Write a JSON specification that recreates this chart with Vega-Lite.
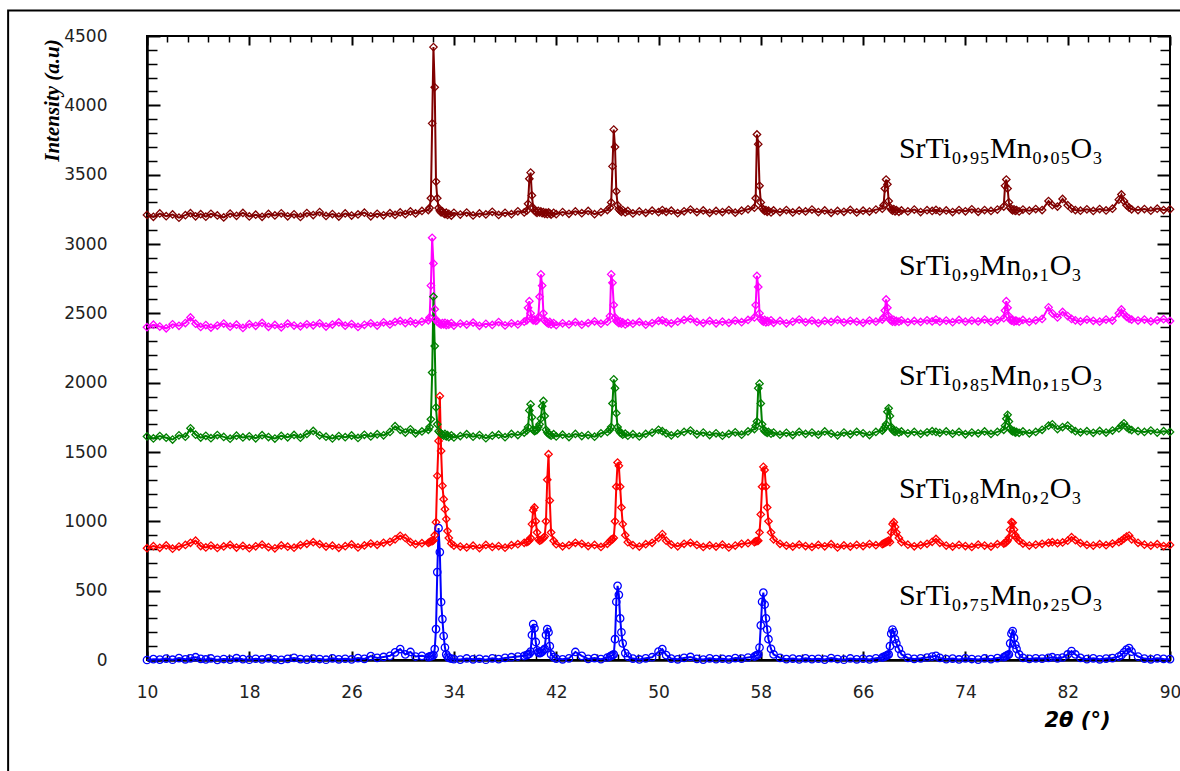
{
  "$schema": "https://vega.github.io/schema/vega-lite/v6.json",
  "width": 1023,
  "height": 624,
  "autosize": {"type": "none"},
  "padding": {"left": 147, "top": 36, "right": 10, "bottom": 111},
  "background": "white",
  "config": {
    "view": {"stroke": "black", "strokeWidth": 2},
    "axis": {"labelFont": "DejaVu Sans", "labelFontSize": 17, "labelColor": "#222", "tickColor": "black", "domainColor": "black", "grid": false, "labelFlush": false, "labelOverlap": false}
  },
  "datasets": {
    "xrd": [
      {"x":10.0,"a":3210,"b":2400,"c":1612,"d":806,"e":0},
      {"x":10.5,"a":3196,"b":2418,"c":1598,"d":821,"e":6},
      {"x":11.0,"a":3220,"b":2405,"c":1615,"d":809,"e":3},
      {"x":11.5,"a":3201,"b":2392,"c":1603,"d":826,"e":10},
      {"x":12.0,"a":3213,"b":2421,"c":1590,"d":803,"e":2},
      {"x":12.5,"a":3190,"b":2410,"c":1620,"d":818,"e":14},
      {"x":13.0,"a":3208,"b":2430,"c":1610,"d":830,"e":5},
      {"x":13.4,"a":3222,"b":2470,"c":1671,"d":845,"e":12},
      {"x":13.8,"a":3200,"b":2425,"c":1625,"d":860,"e":20},
      {"x":14.2,"a":3215,"b":2402,"c":1604,"d":822,"e":8},
      {"x":14.6,"a":3197,"b":2415,"c":1617,"d":812,"e":4},
      {"x":15.0,"a":3218,"b":2397,"c":1600,"d":825,"e":11},
      {"x":15.5,"a":3206,"b":2412,"c":1622,"d":808,"e":1},
      {"x":16.0,"a":3192,"b":2426,"c":1609,"d":819,"e":7},
      {"x":16.5,"a":3219,"b":2404,"c":1596,"d":830,"e":3},
      {"x":17.0,"a":3203,"b":2418,"c":1618,"d":811,"e":13},
      {"x":17.5,"a":3224,"b":2395,"c":1605,"d":823,"e":6},
      {"x":18.0,"a":3199,"b":2422,"c":1613,"d":806,"e":2},
      {"x":18.5,"a":3211,"b":2410,"c":1599,"d":820,"e":9},
      {"x":19.0,"a":3196,"b":2431,"c":1621,"d":832,"e":4},
      {"x":19.5,"a":3217,"b":2403,"c":1608,"d":814,"e":12},
      {"x":20.0,"a":3206,"b":2416,"c":1597,"d":805,"e":5},
      {"x":20.5,"a":3221,"b":2399,"c":1616,"d":826,"e":1},
      {"x":21.0,"a":3200,"b":2425,"c":1606,"d":817,"e":8},
      {"x":21.5,"a":3214,"b":2412,"c":1623,"d":810,"e":15},
      {"x":22.0,"a":3195,"b":2406,"c":1603,"d":829,"e":6},
      {"x":22.5,"a":3223,"b":2421,"c":1630,"d":838,"e":3},
      {"x":23.0,"a":3209,"b":2414,"c":1652,"d":850,"e":10},
      {"x":23.5,"a":3230,"b":2428,"c":1620,"d":835,"e":7},
      {"x":24.0,"a":3202,"b":2405,"c":1610,"d":818,"e":2},
      {"x":24.5,"a":3216,"b":2419,"c":1598,"d":824,"e":12},
      {"x":25.0,"a":3198,"b":2434,"c":1615,"d":809,"e":5},
      {"x":25.5,"a":3220,"b":2411,"c":1607,"d":821,"e":9},
      {"x":26.0,"a":3205,"b":2423,"c":1619,"d":833,"e":4},
      {"x":26.5,"a":3213,"b":2402,"c":1601,"d":812,"e":14},
      {"x":27.0,"a":3226,"b":2417,"c":1624,"d":826,"e":8},
      {"x":27.5,"a":3200,"b":2428,"c":1612,"d":840,"e":28},
      {"x":28.0,"a":3218,"b":2412,"c":1628,"d":831,"e":15},
      {"x":28.5,"a":3207,"b":2435,"c":1620,"d":845,"e":22},
      {"x":29.0,"a":3222,"b":2420,"c":1645,"d":852,"e":30},
      {"x":29.4,"a":3210,"b":2438,"c":1686,"d":870,"e":55},
      {"x":29.8,"a":3228,"b":2445,"c":1660,"d":896,"e":79},
      {"x":30.2,"a":3215,"b":2430,"c":1640,"d":880,"e":40},
      {"x":30.6,"a":3235,"b":2442,"c":1664,"d":850,"e":58},
      {"x":31.0,"a":3220,"b":2428,"c":1635,"d":835,"e":25},
      {"x":31.5,"a":3238,"b":2440,"c":1648,"d":842,"e":30},
      {"x":32.0,"a":3245,"b":2450,"c":1660,"d":845,"e":20},
      {"x":32.1,"a":3260,"b":2470,"c":1680,"d":850,"e":25},
      {"x":32.2,"a":3330,"b":2700,"c":1736,"d":855,"e":28},
      {"x":32.3,"a":3870,"b":3045,"c":2073,"d":858,"e":30},
      {"x":32.4,"a":4420,"b":2860,"c":2620,"d":862,"e":35},
      {"x":32.5,"a":4130,"b":2530,"c":2264,"d":900,"e":79},
      {"x":32.6,"a":3450,"b":2455,"c":1822,"d":994,"e":223},
      {"x":32.7,"a":3330,"b":2440,"c":1700,"d":1328,"e":634},
      {"x":32.8,"a":3260,"b":2432,"c":1650,"d":1580,"e":951},
      {"x":32.9,"a":3240,"b":2425,"c":1640,"d":1903,"e":778},
      {"x":33.0,"a":3228,"b":2418,"c":1632,"d":1508,"e":418},
      {"x":33.1,"a":3235,"b":2430,"c":1625,"d":1256,"e":295},
      {"x":33.2,"a":3222,"b":2420,"c":1618,"d":1160,"e":173},
      {"x":33.3,"a":3215,"b":2432,"c":1630,"d":1088,"e":90},
      {"x":33.4,"a":3226,"b":2415,"c":1612,"d":1016,"e":40},
      {"x":33.5,"a":3210,"b":2425,"c":1622,"d":930,"e":25},
      {"x":33.6,"a":3218,"b":2418,"c":1608,"d":880,"e":15},
      {"x":33.8,"a":3205,"b":2430,"c":1620,"d":840,"e":10},
      {"x":34.0,"a":3225,"b":2412,"c":1605,"d":825,"e":6},
      {"x":34.5,"a":3212,"b":2426,"c":1615,"d":818,"e":3},
      {"x":35.0,"a":3227,"b":2419,"c":1628,"d":812,"e":11},
      {"x":35.5,"a":3206,"b":2433,"c":1610,"d":824,"e":5},
      {"x":36.0,"a":3220,"b":2410,"c":1622,"d":807,"e":9},
      {"x":36.5,"a":3213,"b":2424,"c":1600,"d":830,"e":2},
      {"x":37.0,"a":3232,"b":2416,"c":1618,"d":815,"e":12},
      {"x":37.5,"a":3210,"b":2437,"c":1625,"d":822,"e":6},
      {"x":38.0,"a":3225,"b":2413,"c":1607,"d":810,"e":15},
      {"x":38.5,"a":3215,"b":2428,"c":1630,"d":828,"e":20},
      {"x":39.0,"a":3236,"b":2420,"c":1622,"d":835,"e":25},
      {"x":39.5,"a":3228,"b":2440,"c":1640,"d":845,"e":30},
      {"x":39.7,"a":3240,"b":2450,"c":1655,"d":850,"e":35},
      {"x":39.8,"a":3290,"b":2540,"c":1680,"d":855,"e":40},
      {"x":39.9,"a":3470,"b":2588,"c":1800,"d":862,"e":45},
      {"x":40.0,"a":3515,"b":2500,"c":1844,"d":880,"e":60},
      {"x":40.1,"a":3350,"b":2460,"c":1750,"d":980,"e":180},
      {"x":40.2,"a":3260,"b":2450,"c":1660,"d":1080,"e":259},
      {"x":40.3,"a":3240,"b":2455,"c":1650,"d":1100,"e":230},
      {"x":40.4,"a":3232,"b":2445,"c":1655,"d":1000,"e":130},
      {"x":40.5,"a":3225,"b":2450,"c":1660,"d":920,"e":70},
      {"x":40.6,"a":3238,"b":2470,"c":1680,"d":870,"e":55},
      {"x":40.7,"a":3228,"b":2620,"c":1700,"d":860,"e":50},
      {"x":40.8,"a":3235,"b":2781,"c":1740,"d":865,"e":52},
      {"x":40.9,"a":3222,"b":2700,"c":1830,"d":872,"e":60},
      {"x":41.0,"a":3230,"b":2500,"c":1868,"d":880,"e":70},
      {"x":41.1,"a":3218,"b":2450,"c":1760,"d":890,"e":80},
      {"x":41.2,"a":3226,"b":2440,"c":1660,"d":1000,"e":180},
      {"x":41.3,"a":3215,"b":2432,"c":1640,"d":1300,"e":223},
      {"x":41.4,"a":3228,"b":2425,"c":1630,"d":1484,"e":200},
      {"x":41.5,"a":3220,"b":2438,"c":1625,"d":1150,"e":100},
      {"x":41.6,"a":3212,"b":2420,"c":1618,"d":920,"e":40},
      {"x":41.8,"a":3225,"b":2430,"c":1628,"d":860,"e":20},
      {"x":42.0,"a":3215,"b":2415,"c":1612,"d":835,"e":10},
      {"x":42.5,"a":3230,"b":2428,"c":1625,"d":820,"e":5},
      {"x":43.0,"a":3218,"b":2420,"c":1608,"d":828,"e":12},
      {"x":43.5,"a":3235,"b":2436,"c":1630,"d":845,"e":58},
      {"x":44.0,"a":3222,"b":2418,"c":1615,"d":838,"e":30},
      {"x":44.5,"a":3238,"b":2430,"c":1622,"d":822,"e":8},
      {"x":45.0,"a":3215,"b":2442,"c":1610,"d":830,"e":14},
      {"x":45.5,"a":3230,"b":2425,"c":1635,"d":815,"e":6},
      {"x":46.0,"a":3245,"b":2440,"c":1645,"d":838,"e":18},
      {"x":46.2,"a":3262,"b":2480,"c":1660,"d":855,"e":25},
      {"x":46.3,"a":3300,"b":2781,"c":1680,"d":868,"e":30},
      {"x":46.4,"a":3560,"b":2720,"c":1850,"d":870,"e":35},
      {"x":46.5,"a":3825,"b":2560,"c":2024,"d":880,"e":40},
      {"x":46.6,"a":3700,"b":2470,"c":1960,"d":1000,"e":150},
      {"x":46.7,"a":3380,"b":2445,"c":1780,"d":1250,"e":420},
      {"x":46.8,"a":3280,"b":2438,"c":1680,"d":1424,"e":535},
      {"x":46.9,"a":3250,"b":2430,"c":1655,"d":1400,"e":470},
      {"x":47.0,"a":3240,"b":2442,"c":1640,"d":1250,"e":300},
      {"x":47.1,"a":3232,"b":2425,"c":1635,"d":1100,"e":200},
      {"x":47.2,"a":3245,"b":2435,"c":1625,"d":980,"e":120},
      {"x":47.4,"a":3228,"b":2420,"c":1632,"d":900,"e":50},
      {"x":47.6,"a":3238,"b":2432,"c":1618,"d":850,"e":25},
      {"x":48.0,"a":3220,"b":2425,"c":1628,"d":828,"e":10},
      {"x":48.5,"a":3235,"b":2438,"c":1612,"d":818,"e":4},
      {"x":49.0,"a":3225,"b":2418,"c":1630,"d":835,"e":12},
      {"x":49.5,"a":3240,"b":2430,"c":1640,"d":845,"e":20},
      {"x":50.0,"a":3230,"b":2445,"c":1660,"d":880,"e":60},
      {"x":50.3,"a":3245,"b":2450,"c":1650,"d":908,"e":79},
      {"x":50.6,"a":3232,"b":2435,"c":1635,"d":860,"e":35},
      {"x":51.0,"a":3240,"b":2428,"c":1620,"d":832,"e":10},
      {"x":51.5,"a":3222,"b":2440,"c":1632,"d":820,"e":5},
      {"x":52.0,"a":3236,"b":2452,"c":1645,"d":838,"e":15},
      {"x":52.5,"a":3248,"b":2460,"c":1655,"d":845,"e":22},
      {"x":53.0,"a":3230,"b":2438,"c":1628,"d":830,"e":8},
      {"x":53.5,"a":3242,"b":2430,"c":1640,"d":815,"e":3},
      {"x":54.0,"a":3225,"b":2445,"c":1622,"d":826,"e":12},
      {"x":54.5,"a":3238,"b":2428,"c":1635,"d":818,"e":6},
      {"x":55.0,"a":3230,"b":2440,"c":1618,"d":832,"e":9},
      {"x":55.5,"a":3245,"b":2432,"c":1630,"d":812,"e":4},
      {"x":56.0,"a":3226,"b":2448,"c":1642,"d":825,"e":14},
      {"x":56.5,"a":3240,"b":2436,"c":1625,"d":838,"e":10},
      {"x":57.0,"a":3250,"b":2452,"c":1648,"d":842,"e":18},
      {"x":57.5,"a":3262,"b":2470,"c":1665,"d":850,"e":25},
      {"x":57.6,"a":3330,"b":2560,"c":1690,"d":855,"e":30},
      {"x":57.7,"a":3790,"b":2770,"c":1720,"d":858,"e":35},
      {"x":57.8,"a":3720,"b":2690,"c":1960,"d":860,"e":40},
      {"x":57.9,"a":3420,"b":2500,"c":1993,"d":920,"e":90},
      {"x":58.0,"a":3300,"b":2460,"c":1850,"d":1050,"e":250},
      {"x":58.1,"a":3260,"b":2448,"c":1700,"d":1250,"e":420},
      {"x":58.2,"a":3248,"b":2440,"c":1665,"d":1393,"e":486},
      {"x":58.3,"a":3238,"b":2452,"c":1650,"d":1370,"e":400},
      {"x":58.4,"a":3245,"b":2435,"c":1645,"d":1250,"e":300},
      {"x":58.5,"a":3232,"b":2445,"c":1638,"d":1100,"e":220},
      {"x":58.6,"a":3240,"b":2438,"c":1645,"d":1000,"e":150},
      {"x":58.8,"a":3228,"b":2450,"c":1632,"d":920,"e":80},
      {"x":59.0,"a":3242,"b":2432,"c":1640,"d":870,"e":40},
      {"x":59.5,"a":3230,"b":2445,"c":1625,"d":838,"e":15},
      {"x":60.0,"a":3245,"b":2428,"c":1638,"d":825,"e":6},
      {"x":60.5,"a":3228,"b":2440,"c":1622,"d":818,"e":10},
      {"x":61.0,"a":3240,"b":2455,"c":1645,"d":832,"e":4},
      {"x":61.5,"a":3235,"b":2436,"c":1630,"d":822,"e":12},
      {"x":62.0,"a":3248,"b":2448,"c":1640,"d":815,"e":6},
      {"x":62.5,"a":3230,"b":2430,"c":1625,"d":830,"e":9},
      {"x":63.0,"a":3242,"b":2445,"c":1648,"d":820,"e":3},
      {"x":63.5,"a":3225,"b":2438,"c":1632,"d":835,"e":14},
      {"x":64.0,"a":3238,"b":2452,"c":1620,"d":812,"e":7},
      {"x":64.5,"a":3232,"b":2434,"c":1640,"d":826,"e":2},
      {"x":65.0,"a":3246,"b":2446,"c":1628,"d":818,"e":11},
      {"x":65.5,"a":3228,"b":2440,"c":1645,"d":830,"e":5},
      {"x":66.0,"a":3240,"b":2432,"c":1635,"d":822,"e":9},
      {"x":66.5,"a":3234,"b":2448,"c":1622,"d":836,"e":4},
      {"x":67.0,"a":3248,"b":2440,"c":1645,"d":828,"e":12},
      {"x":67.5,"a":3255,"b":2455,"c":1655,"d":835,"e":18},
      {"x":67.6,"a":3280,"b":2470,"c":1665,"d":840,"e":22},
      {"x":67.7,"a":3400,"b":2520,"c":1680,"d":845,"e":25},
      {"x":67.8,"a":3465,"b":2600,"c":1700,"d":850,"e":30},
      {"x":67.9,"a":3430,"b":2540,"c":1790,"d":855,"e":35},
      {"x":68.0,"a":3310,"b":2480,"c":1815,"d":860,"e":40},
      {"x":68.1,"a":3265,"b":2455,"c":1760,"d":850,"e":100},
      {"x":68.2,"a":3248,"b":2448,"c":1680,"d":920,"e":190},
      {"x":68.3,"a":3240,"b":2440,"c":1660,"d":980,"e":220},
      {"x":68.4,"a":3252,"b":2452,"c":1650,"d":994,"e":200},
      {"x":68.5,"a":3235,"b":2438,"c":1645,"d":960,"e":150},
      {"x":68.6,"a":3245,"b":2445,"c":1652,"d":920,"e":120},
      {"x":68.8,"a":3232,"b":2440,"c":1640,"d":880,"e":80},
      {"x":69.0,"a":3242,"b":2450,"c":1648,"d":850,"e":40},
      {"x":69.5,"a":3235,"b":2436,"c":1635,"d":832,"e":15},
      {"x":70.0,"a":3248,"b":2445,"c":1645,"d":820,"e":8},
      {"x":70.5,"a":3230,"b":2438,"c":1630,"d":828,"e":12},
      {"x":71.0,"a":3244,"b":2450,"c":1642,"d":838,"e":18},
      {"x":71.4,"a":3238,"b":2442,"c":1650,"d":852,"e":25},
      {"x":71.7,"a":3246,"b":2455,"c":1645,"d":873,"e":30},
      {"x":72.0,"a":3235,"b":2440,"c":1638,"d":845,"e":15},
      {"x":72.5,"a":3242,"b":2448,"c":1648,"d":825,"e":6},
      {"x":73.0,"a":3230,"b":2436,"c":1632,"d":818,"e":10},
      {"x":73.5,"a":3245,"b":2452,"c":1645,"d":830,"e":4},
      {"x":74.0,"a":3236,"b":2440,"c":1628,"d":822,"e":12},
      {"x":74.5,"a":3250,"b":2448,"c":1640,"d":815,"e":7},
      {"x":75.0,"a":3232,"b":2442,"c":1635,"d":832,"e":3},
      {"x":75.5,"a":3245,"b":2455,"c":1648,"d":825,"e":11},
      {"x":76.0,"a":3238,"b":2438,"c":1630,"d":818,"e":6},
      {"x":76.5,"a":3248,"b":2450,"c":1645,"d":835,"e":14},
      {"x":77.0,"a":3270,"b":2465,"c":1660,"d":840,"e":20},
      {"x":77.1,"a":3420,"b":2520,"c":1690,"d":845,"e":25},
      {"x":77.2,"a":3465,"b":2588,"c":1740,"d":850,"e":30},
      {"x":77.3,"a":3400,"b":2540,"c":1768,"d":860,"e":35},
      {"x":77.4,"a":3300,"b":2480,"c":1720,"d":880,"e":40},
      {"x":77.5,"a":3262,"b":2455,"c":1670,"d":940,"e":120},
      {"x":77.6,"a":3250,"b":2448,"c":1655,"d":994,"e":190},
      {"x":77.7,"a":3242,"b":2452,"c":1648,"d":990,"e":209},
      {"x":77.8,"a":3250,"b":2440,"c":1652,"d":940,"e":160},
      {"x":77.9,"a":3238,"b":2448,"c":1640,"d":900,"e":110},
      {"x":78.0,"a":3245,"b":2445,"c":1645,"d":880,"e":80},
      {"x":78.2,"a":3235,"b":2440,"c":1638,"d":860,"e":40},
      {"x":78.5,"a":3248,"b":2452,"c":1648,"d":840,"e":15},
      {"x":79.0,"a":3240,"b":2438,"c":1635,"d":825,"e":8},
      {"x":79.5,"a":3252,"b":2450,"c":1645,"d":832,"e":12},
      {"x":80.0,"a":3245,"b":2460,"c":1660,"d":838,"e":10},
      {"x":80.5,"a":3310,"b":2543,"c":1690,"d":845,"e":15},
      {"x":80.8,"a":3280,"b":2500,"c":1700,"d":850,"e":20},
      {"x":81.2,"a":3270,"b":2470,"c":1665,"d":842,"e":12},
      {"x":81.6,"a":3325,"b":2510,"c":1680,"d":848,"e":18},
      {"x":82.0,"a":3280,"b":2480,"c":1690,"d":860,"e":40},
      {"x":82.3,"a":3255,"b":2460,"c":1665,"d":886,"e":65},
      {"x":82.6,"a":3245,"b":2450,"c":1650,"d":865,"e":40},
      {"x":83.0,"a":3240,"b":2442,"c":1642,"d":842,"e":15},
      {"x":83.5,"a":3250,"b":2455,"c":1650,"d":830,"e":6},
      {"x":84.0,"a":3238,"b":2446,"c":1638,"d":825,"e":12},
      {"x":84.5,"a":3252,"b":2440,"c":1652,"d":835,"e":5},
      {"x":85.0,"a":3242,"b":2455,"c":1640,"d":828,"e":10},
      {"x":85.5,"a":3255,"b":2448,"c":1655,"d":840,"e":14},
      {"x":86.0,"a":3320,"b":2500,"c":1670,"d":850,"e":25},
      {"x":86.2,"a":3357,"b":2528,"c":1690,"d":860,"e":35},
      {"x":86.4,"a":3310,"b":2495,"c":1707,"d":875,"e":55},
      {"x":86.6,"a":3280,"b":2475,"c":1680,"d":890,"e":75},
      {"x":86.8,"a":3262,"b":2462,"c":1665,"d":897,"e":86},
      {"x":87.0,"a":3250,"b":2455,"c":1658,"d":870,"e":60},
      {"x":87.5,"a":3245,"b":2448,"c":1650,"d":845,"e":25},
      {"x":88.0,"a":3252,"b":2455,"c":1645,"d":832,"e":10},
      {"x":88.5,"a":3240,"b":2442,"c":1655,"d":825,"e":5},
      {"x":89.0,"a":3255,"b":2450,"c":1640,"d":835,"e":12},
      {"x":89.5,"a":3245,"b":2458,"c":1650,"d":822,"e":8},
      {"x":90.0,"a":3250,"b":2445,"c":1645,"d":830,"e":6}
    ],
    "labels": [
      {"x":68.8,"y":3682,"t":"SrTi₀,₉₅Mn₀,₀₅O₃"},
      {"x":68.8,"y":2841,"t":"SrTi₀,₉Mn₀,₁O₃"},
      {"x":68.8,"y":2046,"t":"SrTi₀,₈₅Mn₀,₁₅O₃"},
      {"x":68.8,"y":1236,"t":"SrTi₀,₈Mn₀,₂O₃"},
      {"x":68.8,"y":463,"t":"SrTi₀,₇₅Mn₀,₂₅O₃"}
    ]
  },
  "layer": [
    {
      "data": {"name": "xrd"},
      "transform": [{"fold": ["a","b","c","d","e"], "as": ["sample","intensity"]}],
      "mark": {"type": "line", "strokeWidth": 2},
      "encoding": {
        "x": {"field": "x", "type": "quantitative",
          "scale": {"domain": [10, 90], "nice": false, "zero": false},
          "axis": {"orient": "bottom", "values": [10,18,26,34,42,50,58,66,74,82,90], "format": "d", "tickSize": -9, "tickWidth": 2, "labelPadding": 33, "domainWidth": 2.5,
            "title": "2θ (°)", "titleFont": "DejaVu Sans", "titleFontSize": 21, "titleFontWeight": "bold", "titleFontStyle": "italic", "titleColor": "black",
            "titleX": 930, "titleY": 60, "titleAlign": "center", "titleBaseline": "middle"}},
        "y": {"field": "intensity", "type": "quantitative",
          "scale": {"domain": [0, 4500], "nice": false},
          "axis": {"orient": "left", "values": [0,500,1000,1500,2000,2500,3000,3500,4000,4500], "format": "d", "tickSize": -13, "tickWidth": 2, "labelPadding": 53, "domainWidth": 2.5,
            "title": "Intensity (a.u)", "titleFont": "Liberation Serif", "titleFontSize": 21, "titleFontWeight": "bold", "titleFontStyle": "italic", "titleColor": "black",
            "titleX": -95, "titleY": 64, "titleAlign": "center", "titleBaseline": "middle", "titleAngle": -90}},
        "color": {"field": "sample", "type": "nominal",
          "scale": {"domain": ["a","b","c","d","e"], "range": ["#800000","#ff00ff","#008000","#ff0000","#0000ff"]},
          "legend": null}
      }
    },
    {
      "data": {"name": "xrd"},
      "transform": [{"fold": ["a","b","c","d","e"], "as": ["sample","intensity"]}],
      "mark": {"type": "point", "filled": false, "size": 55, "strokeWidth": 1.3, "opacity": 1},
      "encoding": {
        "x": {"field": "x", "type": "quantitative",
          "scale": {"domain": [10, 90], "nice": false, "zero": false},
          "axis": {"orient": "bottom", "values": [11.6,13.2,14.8,16.4,19.6,21.2,22.8,24.4,27.6,29.2,30.8,32.4,35.6,37.2,38.8,40.4,43.6,45.2,46.8,48.4,51.6,53.2,54.8,56.4,59.6,61.2,62.8,64.4,67.6,69.2,70.8,72.4,75.6,77.2,78.8,80.4,83.6,85.2,86.8,88.4],
            "tickSize": -6, "tickWidth": 1.5, "labels": false, "domain": false, "title": null}},
        "y": {"field": "intensity", "type": "quantitative",
          "scale": {"domain": [0, 4500], "nice": false},
          "axis": {"orient": "left", "values": [100,200,300,400,600,700,800,900,1100,1200,1300,1400,1600,1700,1800,1900,2100,2200,2300,2400,2600,2700,2800,2900,3100,3200,3300,3400,3600,3700,3800,3900,4100,4200,4300,4400],
            "tickSize": -10, "tickWidth": 1.5, "labels": false, "domain": false, "title": null}},
        "color": {"field": "sample", "type": "nominal",
          "scale": {"domain": ["a","b","c","d","e"], "range": ["#800000","#ff00ff","#008000","#ff0000","#0000ff"]},
          "legend": null},
        "shape": {"field": "sample", "type": "nominal",
          "scale": {"domain": ["a","b","c","d","e"], "range": ["diamond","diamond","diamond","diamond","circle"]},
          "legend": null}
      }
    },
    {
      "data": {"name": "labels"},
      "mark": {"type": "text", "align": "left", "baseline": "middle", "font": "Liberation Serif", "fontSize": 30, "color": "black"},
      "encoding": {
        "x": {"field": "x", "type": "quantitative",
          "scale": {"domain": [10, 90], "nice": false, "zero": false},
          "axis": {"orient": "top", "values": [10,18,26,34,42,50,58,66,74,82,90], "tickSize": -9, "tickWidth": 2, "labels": false, "domain": false, "title": null}},
        "y": {"field": "y", "type": "quantitative",
          "scale": {"domain": [0, 4500], "nice": false},
          "axis": {"orient": "right", "values": [0,500,1000,1500,2000,2500,3000,3500,4000,4500], "tickSize": -13, "tickWidth": 2, "labels": false, "domain": false, "title": null}},
        "text": {"field": "t", "type": "nominal"}
      }
    },
    {
      "data": {"values": [{}]},
      "mark": {"type": "rect", "fill": null, "stroke": "black", "strokeWidth": 2},
      "encoding": {
        "x": {"datum": -0.86, "type": "quantitative",
          "scale": {"domain": [10, 90], "nice": false, "zero": false},
          "axis": {"orient": "top", "values": [11.6,13.2,14.8,16.4,19.6,21.2,22.8,24.4,27.6,29.2,30.8,32.4,35.6,37.2,38.8,40.4,43.6,45.2,46.8,48.4,51.6,53.2,54.8,56.4,59.6,61.2,62.8,64.4,67.6,69.2,70.8,72.4,75.6,77.2,78.8,80.4,83.6,85.2,86.8,88.4],
            "tickSize": -6, "tickWidth": 1.5, "labels": false, "domain": false, "title": null}},
        "x2": {"datum": 100},
        "y": {"datum": 4684, "type": "quantitative",
          "scale": {"domain": [0, 4500], "nice": false},
          "axis": {"orient": "right", "values": [100,200,300,400,600,700,800,900,1100,1200,1300,1400,1600,1700,1800,1900,2100,2200,2300,2400,2600,2700,2800,2900,3100,3200,3300,3400,3600,3700,3800,3900,4100,4200,4300,4400],
            "tickSize": -10, "tickWidth": 1.5, "labels": false, "domain": false, "title": null}},
        "y2": {"datum": -1500}
      }
    }
  ],
  "resolve": {"axis": {"x": "independent", "y": "independent"}}
}
